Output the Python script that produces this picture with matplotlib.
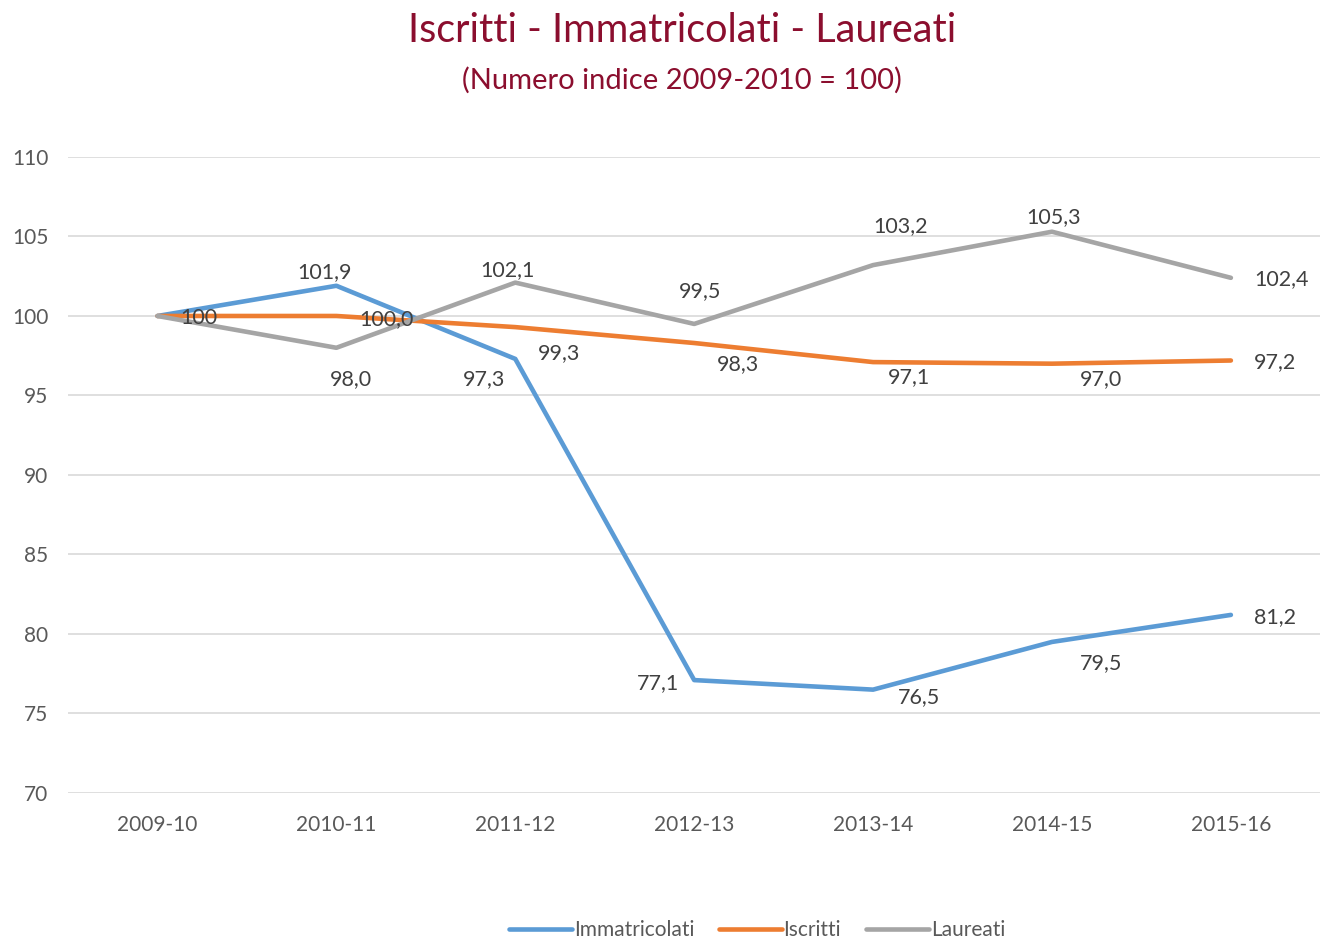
import matplotlib
matplotlib.use("Agg")
import matplotlib.pyplot as plt

plt.rcParams['font.family'] = ['Lato', 'DejaVu Sans']

years = ['2009-10', '2010-11', '2011-12', '2012-13', '2013-14', '2014-15', '2015-16']
immatricolati = [100, 101.9, 97.3, 77.1, 76.5, 79.5, 81.2]
iscritti = [100, 100.0, 99.3, 98.3, 97.1, 97.0, 97.2]
laureati = [100, 98.0, 102.1, 99.5, 103.2, 105.3, 102.4]

# label offsets in pixels (dx, dy), None = no label
off_imm = [None, (-12, 14), (-31, -20), (-36, -3), (46, -7), (49, -21), (44, -2)]
off_isc = [(41, -2), (50, -3), (44, -26), (44, -21), (36, -15), (49, -15), (44, -2)]
off_lau = [None, (15, -31), (-8, 12), (6, 33), (27, 39), (2, 15), (51, -1)]

def fmt(v, i):
    if i == 0:
        return '100'
    return ('%.1f' % v).replace('.', ',')

fig = plt.figure(figsize=(13.21, 9.4), dpi=100)
ax = fig.add_axes([0.0515, 0.1564, 0.948, 0.6766])

x = range(len(years))
series = [
    ('Immatricolati', immatricolati, '#5B9BD5', off_imm),
    ('Iscritti', iscritti, '#ED7D31', off_isc),
    ('Laureati', laureati, '#A5A5A5', off_lau),
]
for name, vals, col, offs in series:
    ax.plot(x, vals, color=col, lw=3.3, label=name, solid_capstyle='round', zorder=3)
for name, vals, col, offs in series:
    for i, v in enumerate(vals):
        if offs[i] is None:
            continue
        ax.annotate(fmt(v, i), (i, v), xytext=offs[i], textcoords='offset pixels',
                    ha='center', va='center', fontsize=15.5, color='#404040', zorder=4)

ax.set_xlim(-0.5, 6.5)
ax.set_ylim(70, 110)
ax.set_yticks(range(70, 111, 5))
ax.set_xticks(list(x))
ax.set_xticklabels(years)
ax.grid(axis='y', color='#D9D9D9', lw=1.2)
ax.set_axisbelow(True)
for s in ax.spines.values():
    s.set_visible(False)
ax.tick_params(length=0, labelsize=15, labelcolor='#595959')
ax.tick_params(axis='x', pad=16)
ax.tick_params(axis='y', pad=14)

fig.text(0.516, 0.968, 'Iscritti - Immatricolati - Laureati', ha='center', va='center',
         fontsize=28.5, color='#8B0E2E')
fig.text(0.516, 0.915, '(Numero indice 2009-2010 = 100)', ha='center', va='center',
         fontsize=21, color='#8B0E2E')

fig.legend(loc='center', bbox_to_anchor=(757 / 1321, 1 - 930 / 940), ncol=3, frameon=False,
           fontsize=15, labelcolor='#595959', handlelength=3.0, handletextpad=0.1,
           columnspacing=1.2)

fig.savefig('out.png', dpi=100)
